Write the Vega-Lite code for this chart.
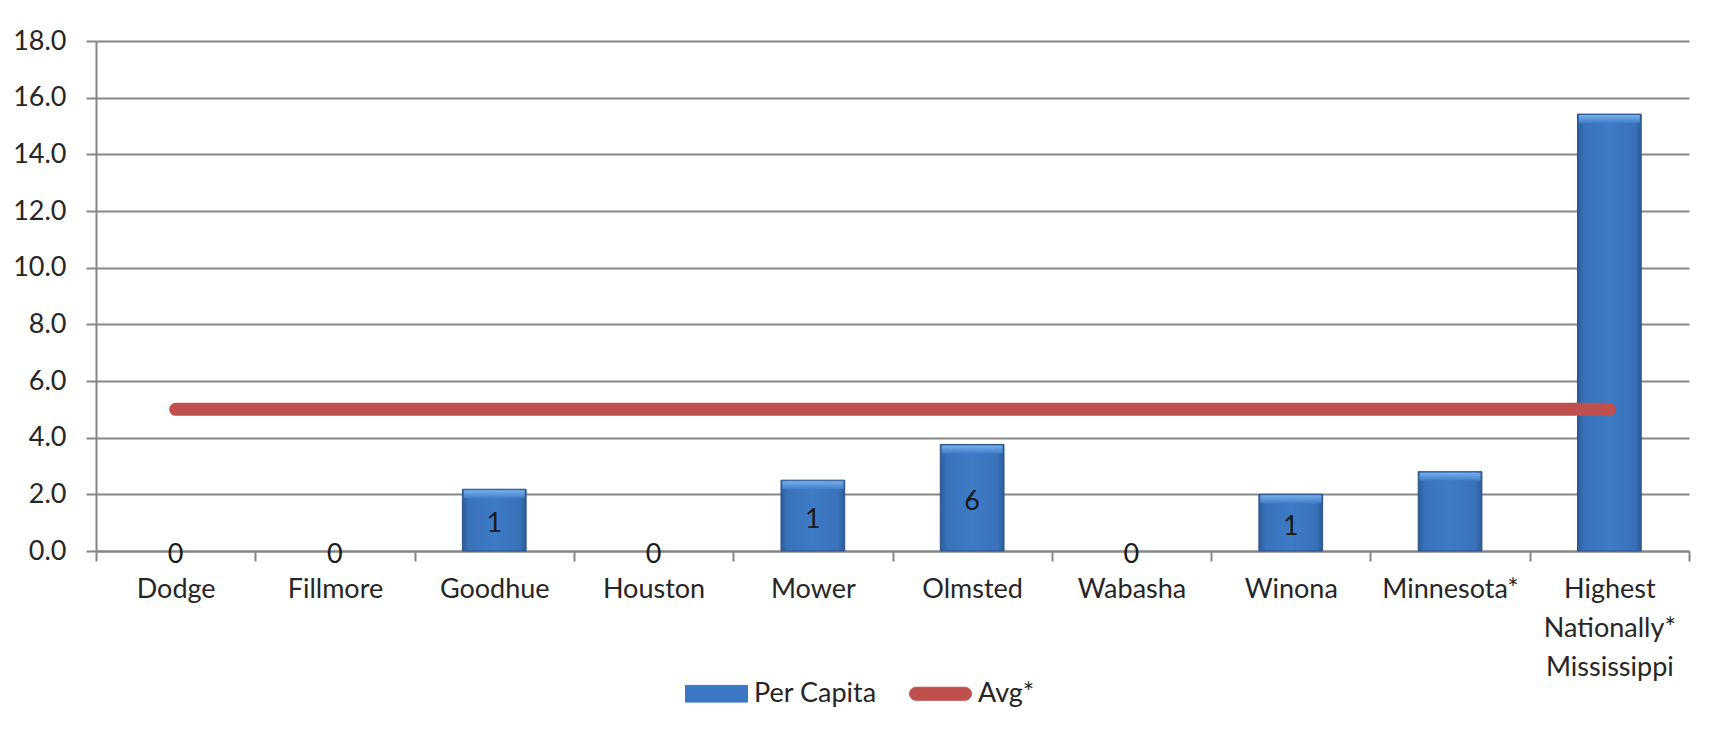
{
  "$schema": "https://vega.github.io/schema/vega-lite/v6.json",
  "width": 1593,
  "height": 510,
  "autosize": "none",
  "padding": {"left": 96, "top": 41, "right": 30, "bottom": 189},
  "background": "white",
  "config": {"view": {"stroke": null}, "font": "Lato"},
  "data": {
    "values": [
      {"county": "Dodge", "perCapita": 0, "avg": 5, "label": "0"},
      {"county": "Fillmore", "perCapita": 0, "avg": 5, "label": "0"},
      {"county": "Goodhue", "perCapita": 2.18, "avg": 5, "label": "1"},
      {"county": "Houston", "perCapita": 0, "avg": 5, "label": "0"},
      {"county": "Mower", "perCapita": 2.5, "avg": 5, "label": "1"},
      {"county": "Olmsted", "perCapita": 3.76, "avg": 5, "label": "6"},
      {"county": "Wabasha", "perCapita": 0, "avg": 5, "label": "0"},
      {"county": "Winona", "perCapita": 2.0, "avg": 5, "label": "1"},
      {"county": "Minnesota*", "perCapita": 2.8, "avg": 5, "label": ""},
      {"county": "Highest Nationally* Mississippi", "perCapita": 15.42, "avg": 5, "label": ""}
    ]
  },
  "layer": [
    {
      "transform": [{"filter": "datum.perCapita > 0"}],
      "mark": {
        "type": "bar",
        "fill": {
          "gradient": "linear",
          "x1": 0, "y1": 0, "x2": 1, "y2": 0,
          "stops": [
            {"offset": 0, "color": "#2C5C98"},
            {"offset": 0.1, "color": "#3972BA"},
            {"offset": 0.5, "color": "#3D7BC6"},
            {"offset": 0.9, "color": "#3972BA"},
            {"offset": 1, "color": "#2C5C98"}
          ]
        },
        "stroke": "#2B5287",
        "strokeWidth": 1
      },
      "encoding": {
        "x": {
          "field": "county",
          "type": "nominal",
          "sort": null,
          "scale": {"domain": ["Dodge", "Fillmore", "Goodhue", "Houston", "Mower", "Olmsted", "Wabasha", "Winona", "Minnesota*", "Highest Nationally* Mississippi"], "paddingInner": 0.6, "paddingOuter": 0.3},
          "axis": null
        },
        "y": {
          "field": "perCapita",
          "type": "quantitative",
          "scale": {"domain": [0, 18], "nice": false},
          "axis": {
            "title": null,
            "values": [0, 2, 4, 6, 8, 10, 12, 14, 16, 18],
            "format": ".1f",
            "tickSize": 10,
            "tickColor": "#868686",
            "tickWidth": 2,
            "domainColor": "#868686",
            "domainWidth": 2,
            "grid": true,
            "gridColor": "#868686",
            "gridWidth": 2,
            "labelFont": "Lato",
            "labelFontSize": 27,
            "labelColor": "#262626",
            "labelPadding": 20
          }
        }
      }
    },
    {
      "transform": [{"filter": "datum.perCapita > 0"}],
      "mark": {
        "type": "tick",
        "size": 61,
        "thickness": 8,
        "yOffset": 5,
        "opacity": 1,
        "fill": {
          "gradient": "linear",
          "x1": 0, "y1": 0, "x2": 0, "y2": 1,
          "stops": [
            {"offset": 0, "color": "#78B0EC"},
            {"offset": 1, "color": "#3F7DC8"}
          ]
        }
      },
      "encoding": {
        "x": {
          "field": "county",
          "type": "nominal",
          "sort": null,
          "scale": {"domain": ["Dodge", "Fillmore", "Goodhue", "Houston", "Mower", "Olmsted", "Wabasha", "Winona", "Minnesota*", "Highest Nationally* Mississippi"], "paddingInner": 0.6, "paddingOuter": 0.3},
          "axis": null
        },
        "y": {
          "field": "perCapita",
          "type": "quantitative",
          "scale": {"domain": [0, 18], "nice": false},
          "axis": null
        }
      }
    },
    {
      "mark": {"type": "line", "strokeWidth": 13, "strokeCap": "round"},
      "encoding": {
        "x": {
          "field": "county",
          "type": "nominal",
          "sort": null,
          "scale": {"paddingInner": 0, "paddingOuter": 0},
          "axis": {
            "title": null,
            "labelAngle": 0,
            "tickBand": "extent",
            "tickSize": 10,
            "tickColor": "#868686",
            "tickWidth": 2,
            "domainColor": "#868686",
            "domainWidth": 2,
            "grid": false,
            "labelFont": "Lato",
            "labelFontSize": 27,
            "labelColor": "#262626",
            "labelPadding": 15,
            "labelBaseline": "top",
            "labelLineHeight": 39,
            "labelOverlap": false,
            "labelExpr": "datum.label == 'Highest Nationally* Mississippi' ? ['Highest', 'Nationally*', 'Mississippi'] : datum.label"
          }
        },
        "y": {
          "field": "avg",
          "type": "quantitative",
          "scale": {"domain": [0, 18], "nice": false},
          "axis": null
        },
        "color": {
          "datum": "Avg*",
          "type": "nominal",
          "scale": {"domain": ["Per Capita", "Avg*"], "range": ["#3C78C3", "#C0504D"]},
          "legend": {
            "orient": "none",
            "legendX": 589,
            "legendY": 621,
            "direction": "horizontal",
            "title": null,
            "symbolSize": 3844,
            "symbolType": "M-1,-0.27H1V0.27H-1Z",
            "labelFont": "Lato",
            "labelFontSize": 27,
            "labelColor": "#262626",
            "labelOffset": 6,
            "columnPadding": 30,
            "padding": 0,
            "encode": {
              "symbols": {
                "update": {
                  "shape": {"signal": "datum.value === 'Avg*' ? 'M-0.79,-0.21H0.79A0.21,0.21 0 0 1 0.79,0.21H-0.79A0.21,0.21 0 0 1 -0.79,-0.21Z' : 'M-1,-0.27H1V0.27H-1Z'"},
                  "fill": {"signal": "datum.value === 'Avg*' ? '#C0504D' : '#3C78C3'"},
                  "stroke": {"signal": "datum.value === 'Avg*' ? '#C0504D' : '#2B5287'"},
                  "strokeWidth": {"value": 1},
                  "opacity": {"value": 1}
                }
              }
            }
          }
        }
      }
    },
    {
      "mark": {"type": "text", "font": "Lato", "fontSize": 27, "color": "#1a1a1a", "baseline": "middle", "dy": 4},
      "encoding": {
        "x": {
          "field": "county",
          "type": "nominal",
          "sort": null,
          "scale": {"paddingInner": 0, "paddingOuter": 0},
          "axis": null
        },
        "y": {
          "field": "perCapita",
          "type": "quantitative",
          "scale": {"domain": [0, 36], "nice": false},
          "axis": null
        },
        "text": {"field": "label", "type": "nominal"}
      }
    }
  ],
  "resolve": {"scale": {"x": "independent", "y": "independent"}}
}
